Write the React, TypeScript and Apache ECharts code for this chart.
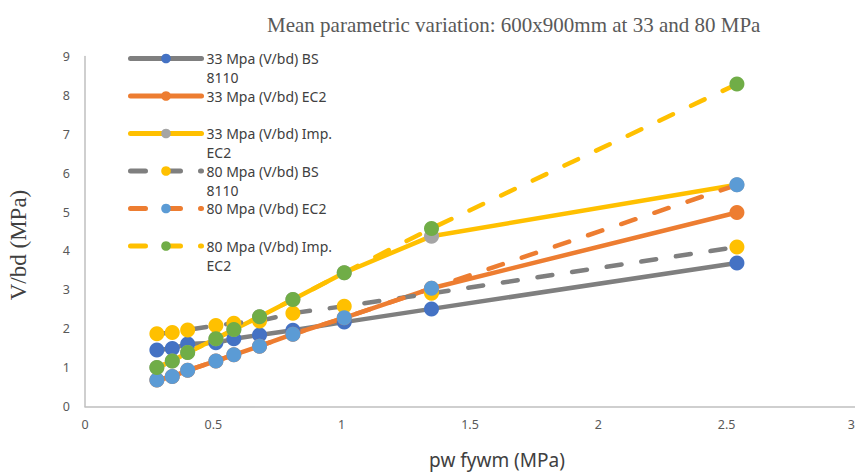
import React, { useEffect, useRef } from "react";
import * as echarts from "echarts";

const xValues = [0.28, 0.34, 0.40, 0.51, 0.58, 0.68, 0.81, 1.01, 1.35, 2.54];
const s33BS = [1.45, 1.49, 1.61, 1.64, 1.74, 1.84, 1.96, 2.17, 2.51, 3.69];
const s33EC2 = [0.68, 0.77, 0.93, 1.17, 1.33, 1.55, 1.86, 2.28, 3.04, 4.99];
const s33Imp = [1.0, 1.17, 1.39, 1.74, 1.98, 2.31, 2.75, 3.44, 4.38, 5.7];
const s80BS = [1.87, 1.9, 1.97, 2.08, 2.14, 2.2, 2.4, 2.58, 2.91, 4.1];
const s80EC2 = [0.68, 0.77, 0.93, 1.17, 1.33, 1.55, 1.86, 2.28, 3.04, 5.7];
const s80Imp = [1.0, 1.17, 1.39, 1.74, 1.98, 2.31, 2.75, 3.44, 4.58, 8.29];

const seriesNames = [
  "33 Mpa (V/bd) BS 8110",
  "33 Mpa (V/bd) EC2",
  "33 Mpa (V/bd) Imp. EC2",
  "80 Mpa (V/bd) BS 8110",
  "80 Mpa (V/bd) EC2",
  "80 Mpa (V/bd) Imp. EC2",
];
const legendLabels = [
  " \n33 Mpa (V/bd) BS\n8110",
  " \n33 Mpa (V/bd) EC2\n ",
  " \n33 Mpa (V/bd) Imp.\nEC2",
  " \n80 Mpa (V/bd) BS\n8110",
  " \n80 Mpa (V/bd) EC2\n ",
  " \n80 Mpa (V/bd) Imp.\nEC2",
];
const seriesValues = [s33BS, s33EC2, s33Imp, s80BS, s80EC2, s80Imp];
const lineColors = ["#7f7f7f", "#ed7d31", "#ffc000", "#7f7f7f", "#ed7d31", "#ffc000"];
const markerColors = ["#4472c4", "#ed7d31", "#a5a5a5", "#ffc000", "#5b9bd5", "#70ad47"];
const dashed = [false, false, false, true, true, true];

export default function App() {
  const ref = useRef<HTMLDivElement>(null);
  useEffect(() => {
    if (!ref.current) return;
    const chart = echarts.init(ref.current, undefined, { renderer: "svg" });
    const series = seriesNames.map((name, i) => ({
      name,
      type: "line",
      data: xValues.map((x, j) => [x, seriesValues[i][j]]),
      symbol: "circle",
      symbolSize: 15,
      showSymbol: true,
      lineStyle: {
        color: lineColors[i],
        width: 4.5,
        type: dashed[i] ? [15, 20] : "solid",
        cap: "round",
      },
      itemStyle: { color: markerColors[i], borderWidth: 0 },
      emphasis: { disabled: true },
    }));
    chart.setOption({
      animation: false,
      backgroundColor: "#ffffff",
      title: {
        text: "Mean parametric variation: 600x900mm at 33 and 80 MPa",
        left: 262,
        top: 9,
        textStyle: {
          fontFamily: "Liberation Serif",
          fontSize: 21,
          fontWeight: "normal",
          color: "#595959",
        },
      },
      legend: {
        orient: "vertical",
        left: 123,
        top: 25,
        itemWidth: 71,
        itemHeight: 12,
        itemGap: -19.5,
        data: seriesNames,
        formatter: (n: string) => legendLabels[seriesNames.indexOf(n)],
        lineStyle: { width: 5 },
        textStyle: {
          fontFamily: "Noto Sans",
          fontSize: 14,
          color: "#404040",
          lineHeight: 19,
        },
      },
      grid: {
        left: 85,
        top: 56.5,
        width: 770,
        height: 350,
        containLabel: false,
        outerBoundsMode: "none",
      },
      xAxis: {
        type: "value",
        min: 0,
        max: 3,
        interval: 0.5,
        axisLine: { show: true, lineStyle: { color: "#bfbfbf", width: 1.5 } },
        axisTick: { show: false },
        splitLine: { show: false },
        axisLabel: {
          color: "#595959",
          fontFamily: "Noto Sans",
          fontSize: 12.5,
          margin: 11,
          alignMaxLabel: "right",
        },
      },
      yAxis: {
        type: "value",
        min: 0,
        max: 9,
        interval: 1,
        axisLine: { show: true, lineStyle: { color: "#bfbfbf", width: 1.5 } },
        axisTick: { show: false },
        splitLine: { show: false },
        axisLabel: {
          color: "#595959",
          fontFamily: "Noto Sans",
          fontSize: 12.5,
          margin: 15,
        },
      },
      graphic: [
        {
          type: "text",
          x: 497,
          y: 460,
          style: {
            text: "pw fywm (MPa)",
            fontFamily: "Noto Sans",
            fontSize: 19,
            fill: "#404040",
            align: "center",
            verticalAlign: "middle",
          },
        },
        {
          type: "text",
          x: 18,
          y: 245,
          rotation: Math.PI / 2,
          style: {
            text: "V/bd (MPa)",
            fontFamily: "Liberation Serif",
            fontSize: 23,
            fill: "#404040",
            align: "center",
            verticalAlign: "middle",
          },
        },
      ],
      series,
    });
    return () => chart.dispose();
  }, []);
  return (
    <div
      ref={ref}
      style={{ position: "fixed", left: 0, top: 0, width: 855, height: 473 }}
    />
  );
}
